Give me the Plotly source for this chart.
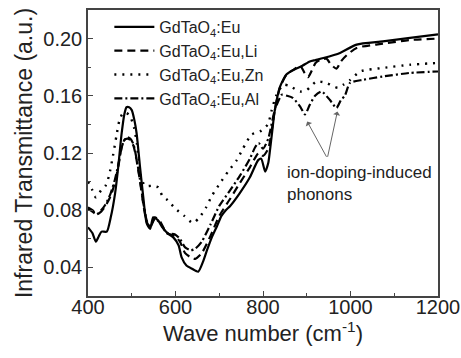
import plotly.graph_objects as go

# ---- data ----
eu_x = [400, 410, 418, 425, 431, 443, 452, 462, 469, 477, 483, 488, 494, 500, 506, 511, 519, 526, 534,
        542, 549, 560, 570, 583, 595, 607, 614, 625, 638, 652, 663, 672, 683, 695, 705, 715, 725, 747, 770,
        789, 796, 805, 812, 816, 821, 827, 839, 854, 869, 890, 907, 920, 938, 976, 1014, 1074, 1136, 1200]
eu_y = [0.068, 0.064, 0.058, 0.062, 0.065, 0.065, 0.075, 0.092, 0.110, 0.134, 0.147, 0.152, 0.152, 0.150,
        0.143, 0.134, 0.110, 0.090, 0.071, 0.067, 0.075, 0.073, 0.068, 0.0636, 0.061, 0.0555, 0.047, 0.0413,
        0.039, 0.037, 0.044, 0.052, 0.061, 0.069, 0.076, 0.080, 0.083, 0.092, 0.103, 0.115, 0.116, 0.107,
        0.113, 0.122, 0.135, 0.150, 0.1665, 0.175, 0.178, 0.181, 0.184, 0.185, 0.1864, 0.190, 0.1958,
        0.198, 0.2005, 0.203]

li_x = [400, 410, 420, 430, 440, 452, 462, 470, 477, 483, 490, 497, 504, 511, 519, 526, 534, 542, 553, 565,
        580, 599, 610, 622, 635, 645, 660, 680, 700, 725, 747, 770, 790, 800, 812, 827, 839, 854, 869, 885,
        895, 903, 912, 920, 930, 945, 955, 968, 978, 990, 1014, 1074, 1136, 1200]
li_y = [0.082, 0.080, 0.077, 0.079, 0.083, 0.090, 0.100, 0.112, 0.124, 0.129, 0.130, 0.129, 0.125, 0.115,
        0.100, 0.085, 0.072, 0.068, 0.075, 0.072, 0.064, 0.062, 0.058, 0.050, 0.047, 0.046, 0.050, 0.062,
        0.076, 0.088, 0.099, 0.110, 0.120, 0.118, 0.123, 0.150, 0.166, 0.175, 0.178, 0.181, 0.176, 0.173,
        0.178, 0.183, 0.185, 0.186, 0.182, 0.179, 0.184, 0.188, 0.1935, 0.1965, 0.199, 0.200]

zn_x = [400, 410, 418, 430, 440, 448, 457, 465, 472, 480, 488, 496, 505, 512, 520, 530, 545, 560, 570, 582,
        600, 620, 640, 655, 670, 683, 702, 720, 740, 754, 774, 793, 811, 820, 830, 846, 860, 885, 900, 922,
        945, 971, 985, 999, 1022, 1074, 1136, 1200]
zn_y = [0.100, 0.094, 0.089, 0.094, 0.097, 0.104, 0.118, 0.132, 0.143, 0.148, 0.148, 0.146, 0.138, 0.126,
        0.105, 0.097, 0.097, 0.096, 0.090, 0.087, 0.081, 0.076, 0.071, 0.075, 0.082, 0.090, 0.099, 0.107,
        0.115, 0.123, 0.133, 0.135, 0.140, 0.150, 0.160, 0.1677, 0.167, 0.163, 0.164, 0.170, 0.169, 0.1656,
        0.168, 0.171, 0.177, 0.1795, 0.1817, 0.183]

al_x = [400, 410, 420, 430, 440, 452, 462, 470, 477, 483, 490, 497, 504, 511, 519, 526, 534, 542, 553, 565,
        580, 599, 610, 622, 635, 645, 660, 680, 700, 725, 747, 770, 782, 790, 800, 812, 827, 843, 855, 868,
        885, 896, 907, 919, 934, 953, 968, 978, 987, 999, 1029, 1074, 1136, 1200]
al_y = [0.081, 0.079, 0.077, 0.080, 0.084, 0.092, 0.102, 0.113, 0.124, 0.129, 0.131, 0.130, 0.126, 0.116,
        0.101, 0.086, 0.073, 0.068, 0.074, 0.071, 0.064, 0.063, 0.060, 0.054, 0.052, 0.053, 0.058, 0.070,
        0.083, 0.094, 0.104, 0.116, 0.124, 0.127, 0.123, 0.130, 0.150, 0.1607, 0.160, 0.1586, 0.1525,
        0.147, 0.1537, 0.160, 0.163, 0.157, 0.1515, 0.157, 0.160, 0.169, 0.1712, 0.1735, 0.176, 0.177]

names = ["GdTaO<sub>4</sub>:Eu", "GdTaO<sub>4</sub>:Eu,Li",
         "GdTaO<sub>4</sub>:Eu,Zn", "GdTaO<sub>4</sub>:Eu,Al"]
x_ticks = [400, 600, 800, 1000, 1200]
y_ticks = [0.04, 0.08, 0.12, 0.16, 0.20]
y_tick_text = ["0.04", "0.08", "0.12", "0.16", "0.20"]

fig = go.Figure()
styles = [("solid", 2.2), ("8px,5px", 2.2), ("2px,6px", 2.4), ("8px,3px,2px,3px", 2.2)]
for (xs, ys), nm, (dash, w) in zip([(eu_x, eu_y), (li_x, li_y), (zn_x, zn_y), (al_x, al_y)], names, styles):
    fig.add_trace(go.Scatter(x=xs, y=ys, mode="lines", name=nm,
                             line=dict(color="black", width=w, dash=dash, shape="spline", smoothing=0.6)))

# arrows
for tx, ty in [(901, 0.142), (970, 0.149)]:
    fig.add_annotation(x=tx, y=ty, ax=947, ay=0.1163, axref="x", ayref="y", xref="x", yref="y",
                       showarrow=True, arrowhead=1, arrowsize=1.2, arrowwidth=1, arrowcolor="#666", text="")
fig.add_annotation(x=850, y=0.0989, xref="x", yref="y", text="ion-doping-induced<br>phonons",
                   showarrow=False, xanchor="left", yanchor="middle", align="left",
                   font=dict(size=17, color="#222"))

axis_common = dict(showline=True, linecolor="#444", linewidth=1.5, mirror=True, ticks="inside",
                   ticklen=5, tickcolor="#444", showgrid=False, zeroline=False, automargin=False,
                   tickfont=dict(size=20, color="#222"))
fig.update_xaxes(range=[400, 1200], tickvals=x_ticks, ticklabelstandoff=-8,
                 minor=dict(ticks="inside", ticklen=3, dtick=100, tickcolor="#444"),
                 title=dict(text="Wave number (cm<sup>-1</sup>)", font=dict(size=22, color="#222"), standoff=4),
                 **axis_common)
fig.update_yaxes(range=[0.02, 0.22], tickvals=y_ticks, ticktext=y_tick_text,
                 minor=dict(ticks="inside", ticklen=3, dtick=0.02, tickcolor="#444"),
                 title=dict(text="Infrared Transmittance (a.u.)", font=dict(size=23, color="#222"), standoff=4),
                 **axis_common)

fig.update_layout(
    width=461, height=358, margin=dict(l=88, r=23, t=10, b=62, autoexpand=False),
    plot_bgcolor="white", paper_bgcolor="white",
    font=dict(family="Liberation Sans, Arial, sans-serif", color="#222"),
    legend=dict(x=0.061, y=1.0, xanchor="left", yanchor="top", bgcolor="rgba(0,0,0,0)",
                font=dict(size=16, color="#222"), tracegroupgap=0, itemwidth=40),
)
fig.write_html("out.html", config={"displayModeBar": False},
               post_script="document.body.style.margin='0';")
